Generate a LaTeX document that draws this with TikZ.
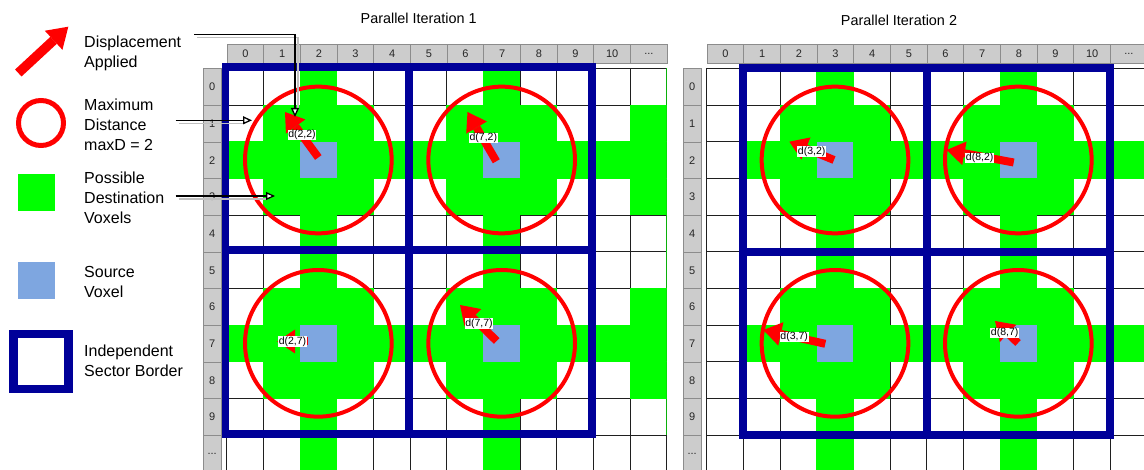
\documentclass[tikz,border=0pt]{standalone}
\usepackage{fontspec}
\setmainfont{Liberation Sans}
\usetikzlibrary{arrows.meta}
\definecolor{vgreen}{HTML}{00FF00}
\definecolor{vred}{HTML}{FF0000}
\definecolor{vblue}{HTML}{7EA6E0}
\definecolor{vnavy}{HTML}{000099}
\definecolor{hdrfill}{HTML}{CCCCCC}
\definecolor{hdrline}{HTML}{8C8C8C}
\begin{document}
\begin{tikzpicture}[x=1pt,y=-1pt,
  cellline/.style={draw=black!88,line width=0.9pt},
  hdr/.style={fill=hdrfill,draw=hdrline,line width=1pt,inner sep=0pt,anchor=north west,
    font=\fontsize{11}{13}\selectfont,text=black!85},
  colhdr/.style={hdr,minimum width=36.667pt,minimum height=19.3pt},
  rowhdr/.style={hdr,minimum width=18pt,minimum height=36.667pt},
  srcbox/.style={fill=vblue,draw=none,minimum size=36.667pt,inner sep=0pt},
  maxcirc/.style={draw=vred,line width=4pt},
  sector/.style={draw=vnavy,line width=7.8pt},
  disp/.style={draw=vred,line width=8pt,-{Triangle[width=24pt,length=18pt,line width=0pt]}},
  legdisp/.style={draw=vred,line width=9.5pt,-{Triangle[width=26pt,length=20pt,line width=0pt]}},
  dlabel/.style={fill=white,inner sep=0.6pt,font=\fontsize{10.5}{11}\selectfont},
  legtxt/.style={anchor=west,align=left,inner sep=0pt,font=\fontsize{16}{20}\selectfont},
  callout/.style={draw=black,line width=1.3pt,-{Triangle[open,fill=white,width=8pt,length=9pt]}},
  calloutshadow/.style={draw=black!25,line width=1.3pt},
  titletxt/.style={font=\fontsize{14.4}{16}\selectfont}
]
\useasboundingbox (0,0) rectangle (1144,470);
\clip (0,0) rectangle (1144,470);
\fill[white] (0,0) rectangle (1144,470);

% titles
\node[titletxt] (title1) at (418.7,18) {Parallel Iteration 1};
\node[titletxt] (title2) at (899,20) {Parallel Iteration 2};

% grids
\foreach \g/\X/\srcs in {1/226.667/{2/2,7/2,2/7,7/7,12/2,12/7,2/12,7/12},
                         2/706.667/{3/2,8/2,3/7,8/7,13/2,13/7,3/12,8/12}} {
  \foreach \i in {0,...,10}
    \node[colhdr] (h\g-\i) at ({\X+\i*36.667},44) {\i};
  \node[colhdr] (h\g-11) at ({\X+11*36.667},44) {...};
  \foreach \j in {0,...,9}
    \node[rowhdr] (r\g-\j) at ({\X-24},{68.333+\j*36.667}) {\j};
  \node[rowhdr] (r\g-10) at ({\X-24},{68.333+10*36.667}) {...};
  \foreach \i in {0,...,11}
    \foreach \j in {0,...,10}
      \draw[cellline] ({\X+\i*36.667},{68.333+\j*36.667}) rectangle ++(36.667,36.667);
  \begin{scope}
    \clip (\X,68.333) rectangle ({\X+12*36.667},{68.333+11*36.667});
    \foreach \sx/\sy in \srcs
      \foreach \dx/\dy in {0/0,1/0,-1/0,0/1,0/-1,1/1,1/-1,-1/1,-1/-1,2/0,-2/0,0/2,0/-2}
        \fill[vgreen] ({\X+(\sx+(\dx))*36.667-0.3},{68.333+(\sy+(\dy))*36.667-0.3}) rectangle ++(37.267,37.267);
  \end{scope}
}

% source voxels
\node[srcbox] (g1a) at (318.333,160) {};
\node[srcbox] (g1b) at (501.667,160) {};
\node[srcbox] (g1c) at (318.333,343.333) {};
\node[srcbox] (g1d) at (501.667,343.333) {};
\node[srcbox] (g2a) at (835,160) {};
\node[srcbox] (g2b) at (1018.333,160) {};
\node[srcbox] (g2c) at (835,343.333) {};
\node[srcbox] (g2d) at (1018.333,343.333) {};

% sector borders
\draw[sector] (225.4,67) rectangle (408.7,250.4);
\draw[sector] (408.7,67) rectangle (592,250.4);
\draw[sector] (225.4,250.4) rectangle (408.7,433.7);
\draw[sector] (408.7,250.4) rectangle (592,433.7);
\draw[sector] (743.333,68.333) rectangle (926.667,251.667);
\draw[sector] (926.667,68.333) rectangle (1110,251.667);
\draw[sector] (743.333,251.667) rectangle (926.667,435);
\draw[sector] (926.667,251.667) rectangle (1110,435);

% maximum distance circles
\foreach \n in {g1a,g1b,g1c,g1d,g2a,g2b,g2c,g2d}
  \draw[maxcirc] (\n.center) circle[radius=73.333];

% displacement arrows
\coordinate (a1s) at (318.3,157.5); \coordinate (a1e) at (285,112);
\coordinate (a2s) at (496.3,161.3); \coordinate (a2e) at (467.5,112);
\coordinate (a3s) at (308,341.5);   \coordinate (a3e) at (277,341.5);
\coordinate (a4s) at (496.7,341);   \coordinate (a4e) at (460,305);
\coordinate (a5s) at (834,160);     \coordinate (a5e) at (789.3,141.7);
\coordinate (a6s) at (1013.7,162.5);\coordinate (a6e) at (946.7,150);
\coordinate (a7s) at (825.3,343.8); \coordinate (a7e) at (763.3,330);
\coordinate (a8s) at (1018,343);    \coordinate (a8e) at (995,321);
\foreach \k in {1,...,8}
  \draw[disp] (a\k s) -- (a\k e);

% displacement labels
\node[dlabel] (d1) at (302,135) {d(2,2)};
\node[dlabel] (d2) at (483.3,138) {d(7,2)};
\node[dlabel] (d3) at (292.5,341.7) {d(2,7)};
\node[dlabel] (d4) at (479,323.3) {d(7,7)};
\node[dlabel] (d5) at (811.7,151.3) {d(3,2)};
\node[dlabel] (d6) at (979.7,158) {d(8,2)};
\node[dlabel] (d7) at (794.2,337) {d(3,7)};
\node[dlabel] (d8) at (1004.7,333) {d(8,7)};

% legend
\coordinate (las) at (18.3,73); \coordinate (lae) at (68.3,26.7);
\draw[legdisp] (las) -- (lae);
\node[draw=vred,line width=5pt,circle,minimum size=45pt,inner sep=0pt] (legcirc) at (41,123) {};
\node[fill=vgreen,minimum size=37pt,inner sep=0pt] (leggreen) at (36.5,192.3) {};
\node[fill=vblue,minimum size=37pt,inner sep=0pt] (legsrc) at (36.5,280.3) {};
\node[draw=vnavy,line width=8.5pt,minimum size=55pt,inner sep=0pt] (legsector) at (41,361.7) {};

\node[legtxt] (tdisp) at (84,53.5) {Displacement\\Applied};
\node[legtxt] (tmax) at (84,125.2) {Maximum\\Distance\\maxD = 2};
\node[legtxt] (tposs) at (84,198.2) {Possible\\Destination\\Voxels};
\node[legtxt] (tsrc) at (84,281.5) {Source\\Voxel};
\node[legtxt] (tsec) at (84,360.9) {Independent\\Sector Border};

% callouts
\coordinate (c1s) at (194,34.3);  \coordinate (c1e) at (295,117);
\coordinate (c2s) at (175.7,120.3); \coordinate (c2e) at (252,120.3);
\coordinate (c3s) at (175.7,196);   \coordinate (c3e) at (275,196);
\draw[calloutshadow] ([shift={(3,3)}]c1s) -| ([shift={(3,-8)}]c1e);
\draw[calloutshadow] ([shift={(3,3)}]c2s) -- ([shift={(-8,3)}]c2e);
\draw[calloutshadow] ([shift={(3,3)}]c3s) -- ([shift={(-8,3)}]c3e);
\draw[callout] (c1s) -| (c1e);
\draw[callout] (c2s) -- (c2e);
\draw[callout] (c3s) -- (c3e);
\end{tikzpicture}
\end{document}
